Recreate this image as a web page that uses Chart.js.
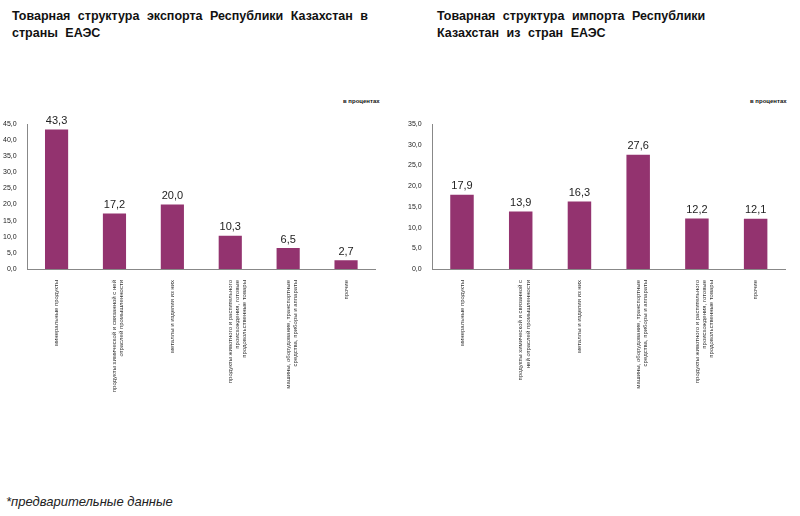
<!DOCTYPE html>
<html><head><meta charset="utf-8">
<script src="https://cdn.jsdelivr.net/npm/chart.js@4"></script>
<style>
body{margin:0;width:800px;height:516px;background:#fff;font-family:"Liberation Sans",Arial,sans-serif;position:relative;overflow:hidden}
.t{position:absolute;font-weight:bold;font-size:12.5px;color:#111;line-height:17px;word-spacing:4px}
.u{position:absolute;font-weight:bold;font-size:6px;color:#111}
.c{position:absolute}
.n{position:absolute;left:6px;top:494px;font-style:italic;font-size:13px;color:#222}
</style></head><body>
<div class="t" style="left:12px;top:8px;width:375px">Товарная структура экспорта Республики Казахстан в страны ЕАЭС</div>
<div class="t" style="left:437px;top:8px;width:330px">Товарная структура импорта Республики Казахстан из стран ЕАЭС</div>
<div class="u" style="left:343px;top:98px">в процентах</div>
<div class="u" style="left:750px;top:98px">в процентах</div>
<div class="c" style="left:0;top:112px;width:380px;height:345px"><canvas id="a"></canvas></div>
<div class="c" style="left:405px;top:112px;width:385px;height:345px"><canvas id="b"></canvas></div>
<div class="n">*предварительные данные</div>
<script>
const exportCategories=[
 ["минеральные продукты"],
 ["продукты химической и связанной с ней","отраслей промышленности"],
 ["металлы и изделия из них"],
 ["продукты животного и растительного","происхождения, готовые","продовольственные товары"],
 ["машины, оборудование, транспортные","средства, приборы и аппараты"],
 ["прочие"]];
const exportValues=[43.3,17.2,20.0,10.3,6.5,2.7];
const importCategories=[
 ["минеральные продукты"],
 ["продукты химической и связанной с","ней отраслей промышленности"],
 ["металлы и изделия из них"],
 ["машины, оборудование, транспортные","средства, приборы и аппараты"],
 ["продукты животного и растительного","происхождения, готовые","продовольственные товары"],
 ["прочие"]];
const importValues=[17.9,13.9,16.3,27.6,12.2,12.1];
const exportMax=45, importMax=35;
const fmt=v=>v.toFixed(1).replace('.',',');
const labelPlugin={id:'vl',afterDatasetsDraw(ch){const c=ch.ctx;c.save();c.font='11px "Liberation Sans",Arial';c.fillStyle='#222';c.textAlign='center';c.textBaseline='bottom';
 ch.getDatasetMeta(0).data.forEach((b,i)=>c.fillText(fmt(ch.data.datasets[0].data[i]),b.x,b.y-3));c.restore();}};
function make(id,cats,vals,max){
 new Chart(document.getElementById(id),{type:'bar',data:{labels:cats,datasets:[{data:vals,backgroundColor:'#93336f',categoryPercentage:1,barPercentage:0.4}]},
 options:{animation:false,responsive:true,maintainAspectRatio:false,layout:{padding:{top:12,right:5}},
 plugins:{legend:{display:false},tooltip:{enabled:false}},
 scales:{y:{min:0,max:max,ticks:{stepSize:5,callback:v=>fmt(v),font:{size:7},color:'#222'},grid:{display:false},border:{color:'#888'}},
 x:{afterFit:s=>{s.height=188},grid:{display:false},border:{color:'#888'},ticks:{minRotation:90,maxRotation:90,autoSkip:false,font:{size:6},color:'#333'}}}},
 plugins:[labelPlugin]});
}
make('a',exportCategories,exportValues,exportMax);
make('b',importCategories,importValues,importMax);
</script></body></html>
